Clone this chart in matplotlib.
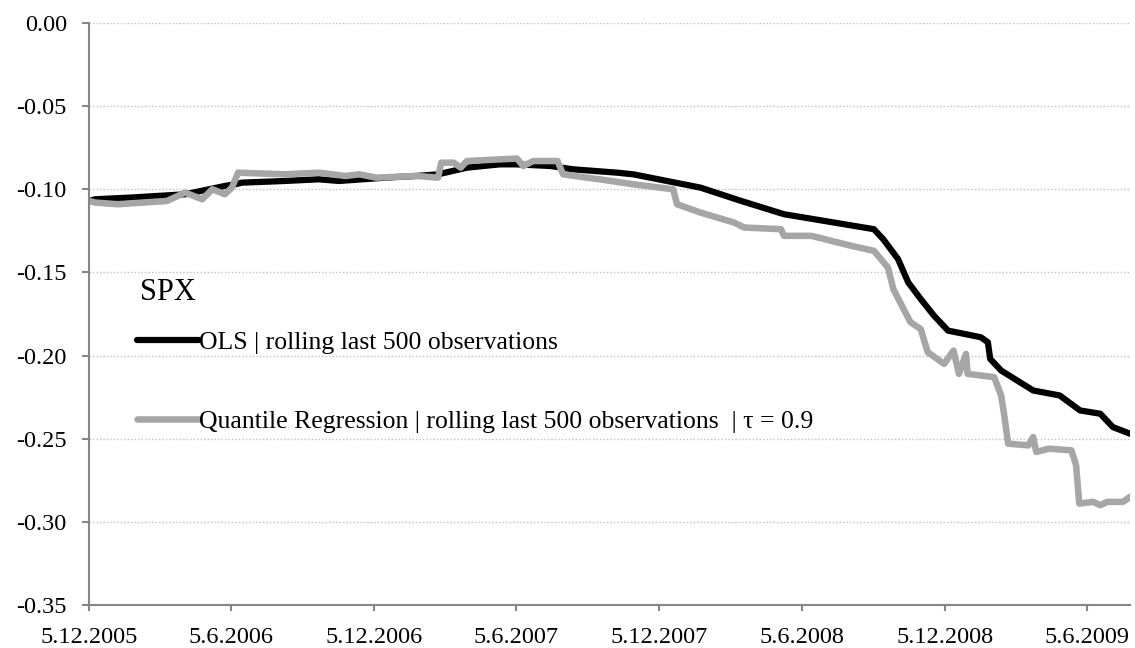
'''
SPX: OLS vs quantile regression, rolling last 500 observations
'''

import matplotlib
matplotlib.use("Agg")
import matplotlib.pyplot as plt
import matplotlib.ticker as mticker
import pandas as pd

plt.rcParams['font.family'] = ['Liberation Serif', 'DejaVu Serif']
plt.rcParams['axes.unicode_minus'] = False

# OLS | rolling last 500 observations
ols_dates = ['2005-12-05', '2005-12-13', '2006-01-27', '2006-04-07', '2006-05-28',
             '2006-06-10', '2006-06-19', '2006-08-13', '2006-09-25', '2006-10-21',
             '2006-12-20', '2007-01-28', '2007-02-25', '2007-04-03', '2007-05-15',
             '2007-06-05', '2007-07-19', '2007-08-17', '2007-10-12', '2007-11-02',
             '2007-12-15', '2008-01-27', '2008-03-19', '2008-05-13', '2008-07-16',
             '2008-09-05', '2008-09-17', '2008-10-06', '2008-10-19', '2008-11-04',
             '2008-11-21', '2008-12-09', '2009-01-20', '2009-01-29', '2009-02-01',
             '2009-02-15', '2009-03-28', '2009-05-01', '2009-05-27', '2009-06-22',
             '2009-07-08', '2009-07-30']
ols_values = [-0.107, -0.106, -0.105, -0.103, -0.098,
              -0.097, -0.096, -0.095, -0.094, -0.095,
              -0.093, -0.092, -0.091, -0.087, -0.085,
              -0.085, -0.086, -0.088, -0.090, -0.091,
              -0.095, -0.099, -0.107, -0.115, -0.120,
              -0.124, -0.130, -0.142, -0.156, -0.166,
              -0.176, -0.185, -0.189, -0.192, -0.202,
              -0.209, -0.221, -0.224, -0.233, -0.235,
              -0.243, -0.247]

# Quantile Regression | rolling last 500 observations | tau = 0.9
qr_dates = ['2005-12-05', '2005-12-13', '2006-01-11', '2006-03-15', '2006-04-07',
            '2006-04-29', '2006-05-12', '2006-05-28', '2006-06-06', '2006-06-14',
            '2006-08-13', '2006-09-25', '2006-10-30', '2006-11-16', '2006-12-08',
            '2007-01-28', '2007-02-25', '2007-03-01', '2007-03-17', '2007-03-26',
            '2007-04-03', '2007-06-06', '2007-06-14', '2007-06-27', '2007-07-28',
            '2007-08-04', '2007-09-03', '2007-09-20', '2007-11-02', '2007-12-23',
            '2007-12-28', '2008-01-27', '2008-03-10', '2008-03-23', '2008-05-09',
            '2008-05-13', '2008-06-17', '2008-08-07', '2008-09-05', '2008-09-14',
            '2008-09-23', '2008-09-30', '2008-10-13', '2008-10-22', '2008-11-04',
            '2008-11-13', '2008-12-04', '2008-12-16', '2008-12-23', '2009-01-01',
            '2009-01-03', '2009-02-06', '2009-02-15', '2009-02-19', '2009-02-24',
            '2009-03-22', '2009-03-28', '2009-04-01', '2009-04-17', '2009-05-16',
            '2009-05-22', '2009-05-26', '2009-06-13', '2009-06-22', '2009-07-01',
            '2009-07-21', '2009-07-30']
qr_values = [-0.107, -0.108, -0.109, -0.107, -0.102,
             -0.106, -0.100, -0.103, -0.099, -0.090,
             -0.091, -0.090, -0.092, -0.091, -0.093,
             -0.092, -0.093, -0.084, -0.084, -0.087,
             -0.083, -0.0815, -0.086, -0.083, -0.083,
             -0.091, -0.093, -0.094, -0.097, -0.100,
             -0.109, -0.114, -0.120, -0.123, -0.124,
             -0.128, -0.128, -0.134, -0.137, -0.142,
             -0.147, -0.160, -0.172, -0.180, -0.184,
             -0.198, -0.205, -0.197, -0.211, -0.199,
             -0.211, -0.213, -0.224, -0.236, -0.253,
             -0.254, -0.249, -0.258, -0.256, -0.257,
             -0.266, -0.289, -0.288, -0.290, -0.288,
             -0.288, -0.285]

tick_dates = ['2005-12-05', '2006-06-05', '2006-12-05', '2007-06-05',
              '2007-12-05', '2008-06-05', '2008-12-05', '2009-06-05']
tick_labels = ['5.12.2005', '5.6.2006', '5.12.2006', '5.6.2007',
               '5.12.2007', '5.6.2008', '5.12.2008', '5.6.2009']

fig = plt.figure(figsize=(11.35, 6.48), dpi=100)
ax = fig.add_axes([0.0784, 0.0664, 0.9172, 0.8981])

ax.plot(pd.to_datetime(ols_dates), ols_values, color='black', linewidth=4.5,
        solid_capstyle='round', solid_joinstyle='round',
        label='OLS | rolling last 500 observations')
ax.plot(pd.to_datetime(qr_dates), qr_values, color='#A6A6A6', linewidth=4.7,
        solid_capstyle='round', solid_joinstyle='round',
        label='Quantile Regression | rolling last 500 observations  | \u03c4 = 0.9')

ax.set_xlim(pd.Timestamp('2005-12-05'), pd.Timestamp('2009-07-30'))
ax.set_ylim(-0.35, 0.0)
ax.set_yticks([0.0, -0.05, -0.10, -0.15, -0.20, -0.25, -0.30, -0.35])
ax.yaxis.set_major_formatter(mticker.FormatStrFormatter('%.2f'))
ax.set_xticks(pd.to_datetime(tick_dates))
ax.set_xticklabels(tick_labels)

ax.grid(axis='y', linestyle=(0, (1, 1.5)), color='#BFBFBF', linewidth=1)
ax.set_axisbelow(True)
for s in ['top', 'right']:
    ax.spines[s].set_visible(False)
for s in ['left', 'bottom']:
    ax.spines[s].set_color('#868686')
    ax.spines[s].set_linewidth(1.5)
ax.tick_params(axis='y', direction='out', length=5, width=1.5, color='#868686',
               pad=11, labelsize=17.5)
ax.tick_params(axis='x', direction='out', length=4, width=1.5, color='#868686',
               pad=12, labelsize=17.5)

ax.text(0.049, 0.524, 'SPX', transform=ax.transAxes, fontsize=22, va='baseline')
ax.legend(loc='center left', bbox_to_anchor=(0.046, 0.383), frameon=False,
          fontsize=18.5, handlelength=2.4, handletextpad=0.0, labelspacing=2.2,
          borderpad=0, borderaxespad=0)

fig.savefig('out.png', dpi=100)
